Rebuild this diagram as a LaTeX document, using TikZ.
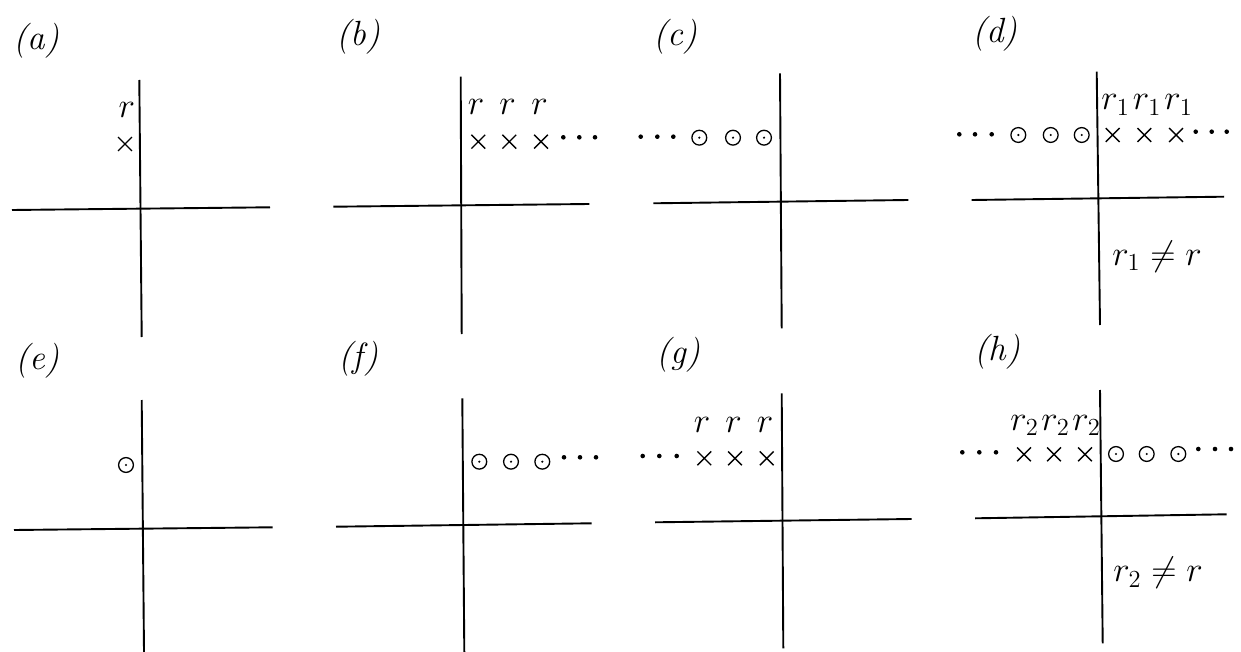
\RequirePackage{fix-cm}
\documentclass[tikz,border=0pt]{standalone}
\usetikzlibrary{shapes.misc}
\begin{document}
\begin{tikzpicture}[x=0.5pt,y=-0.5pt,
  axis/.style={line width=0.95pt},
  lbl/.style={inner sep=0pt,font=\fontsize{17.5}{21}\selectfont},
  xmark/.style={cross out,draw,minimum size=6.2pt,inner sep=0pt,line width=0.7pt},
  omark/.style={circle,draw,minimum size=7.4pt,inner sep=0pt,line width=0.65pt,
    path picture={\fill (path picture bounding box.center) circle (0.6pt);}},
  dotm/.style={circle,fill,minimum size=2.3pt,inner sep=0pt}]
\useasboundingbox (0,0) rectangle (1241,652);

% ---------- (a) ----------
\node[lbl] (la) at (36.5,41) {\textit{(a)}};
\coordinate (aT) at (139.3,80); \coordinate (aB) at (141.7,337);
\coordinate (aL) at (12,210); \coordinate (aR) at (270,207.3);
\draw[axis] (aT) -- (aB); \draw[axis] (aL) -- (aR);
\node[xmark] (ax1) at (125,144) {};
\node[lbl,anchor=base] (ar1) at (126.7,118) {$r$};

% ---------- (b) ----------
\node[lbl] (lb) at (358.3,36.7) {\textit{(b)}};
\coordinate (bT) at (460.7,76.7); \coordinate (bB) at (461.7,334);
\coordinate (bL) at (333.3,206.7); \coordinate (bR) at (589.3,204);
\draw[axis] (bT) -- (bB); \draw[axis] (bL) -- (bR);
\node[xmark] (bx1) at (478.3,141.7) {};
\node[xmark] (bx2) at (509.3,141.7) {};
\node[xmark] (bx3) at (541,141.7) {};
\node[lbl,anchor=base] (br1) at (476,115) {$r$};
\node[lbl,anchor=base] (br2) at (507.5,115) {$r$};
\node[lbl,anchor=base] (br3) at (539.5,115) {$r$};
\node[dotm] (bd1) at (563.3,137.3) {};
\node[dotm] (bd2) at (579.3,137.3) {};
\node[dotm] (bd3) at (595,137.3) {};

% ---------- (c) ----------
\node[lbl] (lc) at (675.8,36.7) {\textit{(c)}};
\coordinate (cT) at (780,73.3); \coordinate (cB) at (781.7,328.3);
\coordinate (cL) at (653.3,203.3); \coordinate (cR) at (908.3,200);
\draw[axis] (cT) -- (cB); \draw[axis] (cL) -- (cR);
\node[dotm] (cd1) at (640.7,136.7) {};
\node[dotm] (cd2) at (657.3,136.7) {};
\node[dotm] (cd3) at (673.3,136.7) {};
\node[omark] (co1) at (699.3,137.7) {};
\node[omark] (co2) at (733,137.7) {};
\node[omark] (co3) at (764,137.7) {};

% ---------- (d) ----------
\node[lbl] (ld) at (995,34.2) {\textit{(d)}};
\coordinate (dT) at (1096.7,71.7); \coordinate (dB) at (1100,325);
\coordinate (dL) at (971.7,200); \coordinate (dR) at (1224,196.7);
\draw[axis] (dT) -- (dB); \draw[axis] (dL) -- (dR);
\node[dotm] (dd1) at (959.3,134.3) {};
\node[dotm] (dd2) at (975,134.3) {};
\node[dotm] (dd3) at (991.7,134.3) {};
\node[omark] (do1) at (1018.3,135) {};
\node[omark] (do2) at (1050.7,135) {};
\node[omark] (do3) at (1081.7,135) {};
\node[xmark] (dx1) at (1112.7,135) {};
\node[xmark] (dx2) at (1144.3,135) {};
\node[xmark] (dx3) at (1176,135) {};
\node[dotm] (dd4) at (1195.7,131.7) {};
\node[dotm] (dd5) at (1211.7,131.7) {};
\node[dotm] (dd6) at (1226.7,131.7) {};
\node[lbl,anchor=base west] (dr1) at (1101,110) {$r_1$};
\node[lbl,anchor=base west] (dr2) at (1132.5,110) {$r_1$};
\node[lbl,anchor=base west] (dr3) at (1164,110) {$r_1$};
\node[lbl] (dne) at (1157,257) {$r_1\neq r$};

% ---------- (e) ----------
\node[lbl] (le) at (37.5,360.8) {\textit{(e)}};
\coordinate (eT) at (141.7,400); \coordinate (eB) at (144,652);
\coordinate (eL) at (14,530); \coordinate (eR) at (272.7,527.3);
\draw[axis] (eT) -- (eB); \draw[axis] (eL) -- (eR);
\node[omark] (eo1) at (126,465) {};

% ---------- (f) ----------
\node[lbl] (lf) at (358.3,358.3) {\textit{(f)}};
\coordinate (fT) at (462.3,398.3); \coordinate (fB) at (464.3,652);
\coordinate (fL) at (336,526.7); \coordinate (fR) at (591.7,523.3);
\draw[axis] (fT) -- (fB); \draw[axis] (fL) -- (fR);
\node[omark] (fo1) at (479.3,461.7) {};
\node[omark] (fo2) at (511,461.7) {};
\node[omark] (fo3) at (542.3,461.7) {};
\node[dotm] (fd1) at (564,457.3) {};
\node[dotm] (fd2) at (580,457.3) {};
\node[dotm] (fd3) at (596,457.3) {};

% ---------- (g) ----------
\node[lbl] (lg) at (678.3,355) {\textit{(g)}};
\coordinate (gT) at (781.7,393.3); \coordinate (gB) at (783.3,648.3);
\coordinate (gL) at (655,522.3); \coordinate (gR) at (911.7,519);
\draw[axis] (gT) -- (gB); \draw[axis] (gL) -- (gR);
\node[dotm] (gd1) at (642.7,456) {};
\node[dotm] (gd2) at (659.3,456) {};
\node[dotm] (gd3) at (676.7,456) {};
\node[xmark] (gx1) at (704.3,458.3) {};
\node[xmark] (gx2) at (735,458.3) {};
\node[xmark] (gx3) at (766.7,458.3) {};
\node[lbl,anchor=base] (gr1) at (702,432) {$r$};
\node[lbl,anchor=base] (gr2) at (733.5,432) {$r$};
\node[lbl,anchor=base] (gr3) at (765,432) {$r$};

% ---------- (h) ----------
\node[lbl] (lh) at (997.5,351.7) {\textit{(h)}};
\coordinate (hT) at (1100,390); \coordinate (hB) at (1102.7,643.3);
\coordinate (hL) at (975,518.3); \coordinate (hR) at (1226.7,514.3);
\draw[axis] (hT) -- (hB); \draw[axis] (hL) -- (hR);
\node[dotm] (hd1) at (962.3,452.3) {};
\node[dotm] (hd2) at (979.3,452.3) {};
\node[dotm] (hd3) at (996,452.3) {};
\node[xmark] (hx1) at (1024,454.3) {};
\node[xmark] (hx2) at (1054,454.3) {};
\node[xmark] (hx3) at (1085,454.3) {};
\node[omark] (ho1) at (1116,454) {};
\node[omark] (ho2) at (1146.7,454) {};
\node[omark] (ho3) at (1178.3,454) {};
\node[dotm] (hd4) at (1198.3,449) {};
\node[dotm] (hd5) at (1215,449) {};
\node[dotm] (hd6) at (1231,449) {};
\node[lbl,anchor=base west] (hr1) at (1010,430) {$r_2$};
\node[lbl,anchor=base west] (hr2) at (1041,430) {$r_2$};
\node[lbl,anchor=base west] (hr3) at (1072,430) {$r_2$};
\node[lbl] (hne) at (1158,573) {$r_2\neq r$};
\end{tikzpicture}
\end{document}
